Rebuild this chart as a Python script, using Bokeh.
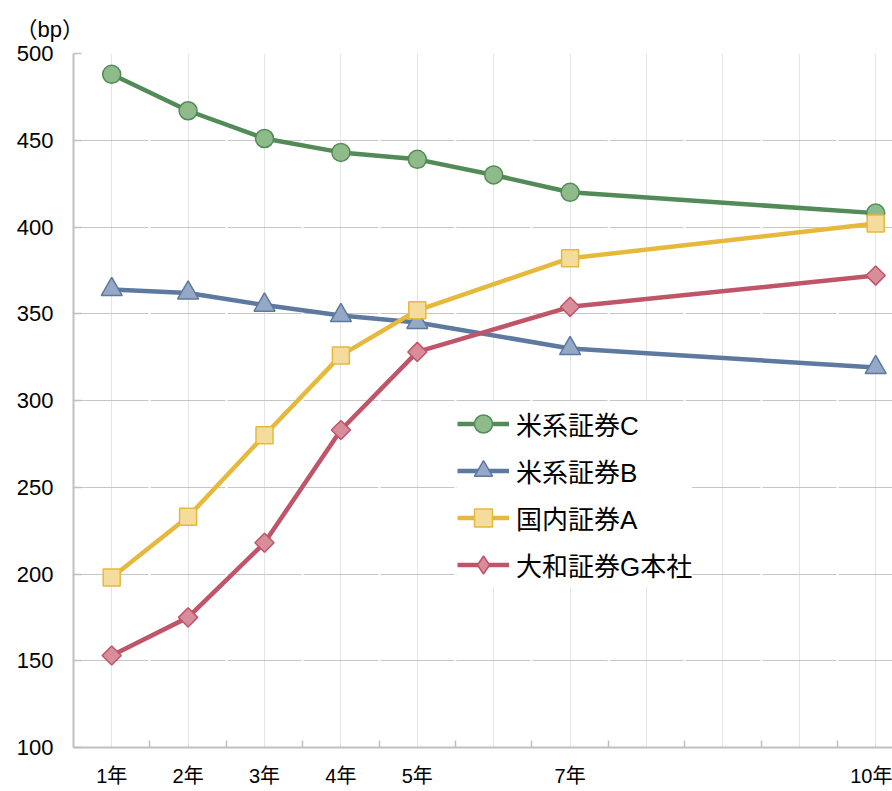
import numpy as np
from bokeh.plotting import figure
from bokeh.models import FixedTicker, Legend, LegendItem, Title, Grid, Range1d, ColumnDataSource
from bokeh.embed import file_html
from bokeh.resources import INLINE

# ---- data ----
tenor_labels = ["1年", "2年", "3年", "4年", "5年", "", "7年", "", "", "", "10年"]
series_names = ["米系証券C", "米系証券B", "国内証券A", "大和証券G本社"]
us_c = [488, 467, 451, 443, 439, 430, 420, None, None, None, 408]
us_b = [364, 362, 355, 349, 345, None, 330, None, None, None, 319]
jp_a = [198, 233, 280, 326, 352, None, 382, None, None, None, 402]
daiwa = [153, 175, 218, 283, 328, None, 354, None, None, None, 372]
y_ticks = [100, 150, 200, 250, 300, 350, 400, 450, 500]
unit_label = "（bp）"

FONT = "'Liberation Sans', 'Noto Sans CJK JP', sans-serif"
AX = "#c0c0c0"

p = figure(width=892, height=791, output_backend="svg", toolbar_location=None,
           x_range=Range1d(-0.5, 10.22), y_range=Range1d(100, 500),
           min_border_left=73, min_border_right=0, min_border_top=53, min_border_bottom=44)
p.outline_line_color = None
p.background_fill_color = "white"

p.title = Title(text=unit_label, align="left", offset=-58, standoff=23,
                text_font=FONT, text_font_size="22px", text_font_style="normal", text_color="black")

positions = list(range(len(tenor_labels)))
half_positions = [i + 0.5 for i in range(len(tenor_labels) - 1)]

# x axis
p.xaxis.ticker = FixedTicker(ticks=[i for i, l in enumerate(tenor_labels) if l],
                             minor_ticks=half_positions)
p.xaxis.major_label_overrides = {i: l for i, l in enumerate(tenor_labels) if l}
p.xaxis.major_tick_in = 0
p.xaxis.major_tick_out = 0
p.xaxis.minor_tick_in = 7
p.xaxis.minor_tick_out = 0
p.xaxis.minor_tick_line_color = AX
p.xaxis.minor_tick_line_width = 1.5
p.xaxis.axis_line_color = AX
p.xaxis.axis_line_width = 2
p.xaxis.major_label_text_font = FONT
p.xaxis.major_label_text_font_size = "20px"
p.xaxis.major_label_text_color = "black"
p.xaxis.major_label_standoff = 17

# y axis
p.yaxis.ticker = FixedTicker(ticks=y_ticks, minor_ticks=[])
p.yaxis.major_tick_in = 8
p.yaxis.major_tick_out = 0
p.yaxis.major_tick_line_color = AX
p.yaxis.major_tick_line_width = 1.5
p.yaxis.minor_tick_line_color = None
p.yaxis.axis_line_color = AX
p.yaxis.axis_line_width = 2
p.yaxis.major_label_text_font = FONT
p.yaxis.major_label_text_font_size = "22px"
p.yaxis.major_label_text_color = "black"
p.yaxis.major_label_standoff = 20

# grids
p.xgrid.ticker = FixedTicker(ticks=positions)
p.xgrid.grid_line_color = "#e5e5e5"
p.xgrid.grid_line_width = 1
p.ygrid.ticker = FixedTicker(ticks=y_ticks)
p.ygrid.grid_line_color = "#c6c6c6"
p.ygrid.grid_line_width = 1
gap_grid = Grid(dimension=0, ticker=FixedTicker(ticks=[], minor_ticks=half_positions),
                grid_line_color=None, minor_grid_line_color="white", minor_grid_line_width=2)
p.add_layout(gap_grid)

styles = [
    (us_c, "#528b57", "#8fbb8b", "circle", 18, 0, "circle"),
    (us_b, "#5d79a0", "#95a8c5", "triangle", 21, 0, "triangle"),
    (jp_a, "#e6b83c", "#f4dc9c", "square", 17, 0, "square"),
    (daiwa, "#c05469", "#d98c99", "square", 13.5, np.pi / 4, "diamond"),
]

items = []
for name, (vals, lc, fc, mk, sz, ang, legend_mk) in zip(series_names, styles):
    xs = [i for i, v in zip(positions, vals) if v is not None]
    ys = [v for v in vals if v is not None]
    src = ColumnDataSource(dict(x=xs, y=ys))
    l = p.line("x", "y", source=src, line_color=lc, line_width=4.5)
    if legend_mk != mk:
        # tiny marker hidden under the real markers; the legend draws it at legend size
        s_leg = p.scatter("x", "y", source=src, marker=legend_mk, size=0.5,
                          fill_color=fc, line_color=lc, line_width=1.5)
    s = p.scatter("x", "y", source=src, marker=mk, size=sz, angle=ang,
                  fill_color=fc, line_color=lc, line_width=1.5)
    items.append(LegendItem(label=name, renderers=[l, s_leg if legend_mk != mk else s]))

legend = Legend(items=items, location=(384, 160), glyph_width=52, glyph_height=45,
                spacing=2, padding=6, margin=0, label_standoff=7,
                border_line_color=None, background_fill_color="white", background_fill_alpha=1,
                label_text_font=FONT, label_text_font_size="26px", label_text_color="black")
p.add_layout(legend)

open("out.html", "w").write(file_html(p, INLINE))
